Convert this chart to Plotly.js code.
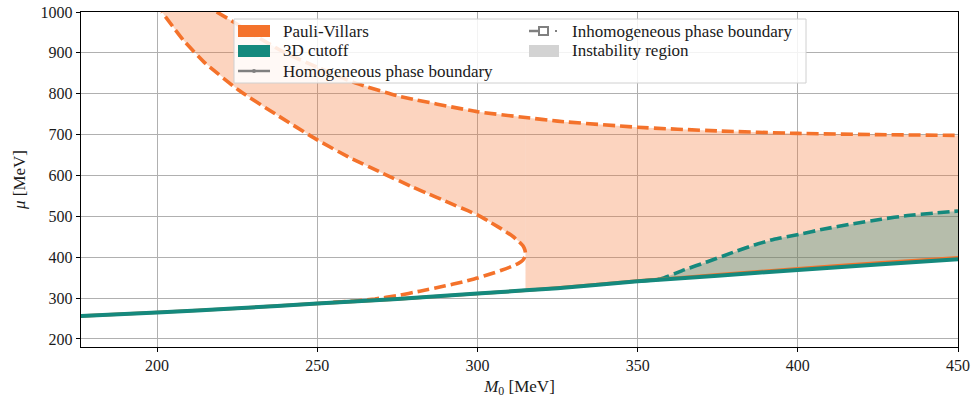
<!DOCTYPE html>
<html>
<head>
<meta charset="utf-8">
<script src="https://cdn.plot.ly/plotly-3.0.1.min.js"></script>
<style>html,body{margin:0;padding:0;background:#fff;}#chart{width:973px;height:399px;}</style>
</head>
<body>
<div id="chart"></div>
<script>
// Homogeneous phase boundary
const M0_hom = [176, 200, 225, 250, 275, 300, 315, 325, 350, 375, 400, 425, 450];
const mu_hom_PV = [256, 265, 275, 287, 298, 311, 319, 325, 342, 357, 372, 386, 399];
const mu_hom_3D = [256, 265, 275, 287, 298, 311, 319, 324, 341, 355, 369, 382, 395];

// Pauli-Villars inhomogeneous boundary: inner curve (lower branch -> nose -> upper-left branch)
const M0_inh_PV_inner = [255, 262, 268, 275, 282, 290, 295, 300, 304, 307.5, 310.5, 312.8, 314.2, 314.8, 315,
                         314.8, 314.2, 313, 311.2, 309, 306.3, 303.3, 300.4, 297, 293, 289.5, 285, 280, 270, 260.3, 250, 237, 225.4, 215, 208.2, 201.5];
const mu_inh_PV_inner = [290, 293, 298, 306, 317, 330, 339, 349, 359, 368, 377, 385, 393, 401, 410,
                         418, 428, 438, 450, 462, 475, 489, 502, 514, 527, 539, 554, 571, 607, 643, 687, 750, 809, 875, 931, 1000];

// Pauli-Villars inhomogeneous boundary: outer (upper) curve
const M0_inh_PV_outer = [218.6, 224, 230, 240, 250, 262, 275, 300, 315, 325, 350, 375, 400, 425, 450];
const mu_inh_PV_outer = [1000, 975, 945, 900, 865, 826, 795, 756, 742, 733, 718, 709, 703, 700, 698];

// 3D cutoff inhomogeneous boundary
const M0_inh_3D = [351, 357.2, 364.5, 371.8, 379.1, 386.4, 392.6, 400.3, 408.2, 416.6, 426, 434.3, 442.6, 450];
const mu_inh_3D = [342, 347, 369, 389, 410, 430, 444, 456, 469, 481, 493, 502, 508, 513];

const xTicks = [200, 250, 300, 350, 400, 450];
const yTicks = [200, 300, 400, 500, 600, 700, 800, 900, 1000];

const ORANGE = '#f4722b';
const TEAL = '#15897d';
const PV_FILL = 'rgba(244,114,43,0.3)';
const TEAL_FILL = 'rgba(21,137,125,0.3)';

// Split of the Pauli-Villars region at the nose of the inner curve
const iNose = M0_inh_PV_inner.indexOf(Math.max(...M0_inh_PV_inner));
const xSplit = M0_inh_PV_inner[iNose];
const innerUpperX = M0_inh_PV_inner.slice(iNose);
const innerUpperY = mu_inh_PV_inner.slice(iNose);
const outerLeftX = [], outerLeftY = [], outerRightX = [], outerRightY = [];
M0_inh_PV_outer.forEach((x, i) => {
  if (x <= xSplit) { outerLeftX.push(x); outerLeftY.push(mu_inh_PV_outer[i]); }
  if (x >= xSplit) { outerRightX.push(x); outerRightY.push(mu_inh_PV_outer[i]); }
});
// Region A (left of nose): between inner upper-left branch and outer curve
const regAx = outerLeftX.concat(innerUpperX);
const regAy = outerLeftY.concat(innerUpperY);

// Region B (right of nose): between homogeneous line and outer curve
const homRX = [], homRY = [];
M0_hom.forEach((x, i) => { if (x >= xSplit) { homRX.push(x); homRY.push(mu_hom_PV[i]); } });
const regBx = homRX.concat(outerRightX.slice().reverse());
const regBy = homRY.concat(outerRightY.slice().reverse());

// 3D cutoff instability region
const hom3RX = [], hom3RY = [];
M0_hom.forEach((x, i) => { if (x >= 350) { hom3RX.push(x); hom3RY.push(mu_hom_3D[i]); } });
const reg3x = M0_inh_3D.concat(hom3RX.slice().reverse());
const reg3y = mu_inh_3D.concat(hom3RY.slice().reverse());

const dash = '12px,5px';
const traces = [
  {x: regAx, y: regAy, mode: 'none', fill: 'toself', fillcolor: PV_FILL},
  {x: regBx, y: regBy, mode: 'none', fill: 'toself', fillcolor: PV_FILL},
  {x: reg3x, y: reg3y, mode: 'none', fill: 'toself', fillcolor: TEAL_FILL},
  {x: M0_inh_PV_inner, y: mu_inh_PV_inner, mode: 'lines', line: {color: ORANGE, width: 3.6, dash: dash, shape: 'spline', smoothing: 0.4}},
  {x: M0_inh_PV_outer, y: mu_inh_PV_outer, mode: 'lines', line: {color: ORANGE, width: 3.6, dash: dash, shape: 'spline', smoothing: 0.5}},
  {x: M0_inh_3D, y: mu_inh_3D, mode: 'lines', line: {color: TEAL, width: 3.6, dash: dash, shape: 'spline', smoothing: 0.5}},
  {x: M0_hom, y: mu_hom_PV, mode: 'lines', line: {color: ORANGE, width: 3.4, shape: 'spline', smoothing: 0.5}},
  {x: M0_hom, y: mu_hom_3D, mode: 'lines', line: {color: TEAL, width: 4, shape: 'spline', smoothing: 0.5}}
].map(t => Object.assign({type: 'scatter', showlegend: false, hoverinfo: 'skip'}, t));

// Legend (drawn in paper coords from pixel positions of plot area)
const L = 81, R = 958, T = 12, B = 347;
const px = v => (v - L) / (R - L);
const py = v => (B - v) / (B - T);
const FONT = 'Liberation Serif, Times New Roman, serif';
const shapes = [
  {type: 'rect', xref: 'paper', yref: 'paper', x0: px(234), x1: px(806), y0: py(19), y1: py(83),
   fillcolor: 'rgba(255,255,255,0.85)', line: {color: '#d0d0d0', width: 1}},
  {type: 'rect', xref: 'paper', yref: 'paper', x0: px(238), x1: px(270), y0: py(25), y1: py(37),
   fillcolor: ORANGE, line: {width: 0}},
  {type: 'rect', xref: 'paper', yref: 'paper', x0: px(238), x1: px(270), y0: py(45), y1: py(57),
   fillcolor: TEAL, line: {width: 0}},
  {type: 'line', xref: 'paper', yref: 'paper', x0: px(238), x1: px(270), y0: py(71), y1: py(71),
   line: {color: '#808080', width: 2.5}},
  {type: 'circle', xref: 'paper', yref: 'paper', x0: px(252), x1: px(256), y0: py(69), y1: py(73),
   fillcolor: '#808080', line: {color: '#808080', width: 0}},
  {type: 'line', xref: 'paper', yref: 'paper', x0: px(529), x1: px(540), y0: py(31), y1: py(31),
   line: {color: '#808080', width: 2.5}},
  {type: 'rect', xref: 'paper', yref: 'paper', x0: px(539), x1: px(548), y0: py(27), y1: py(35),
   fillcolor: '#ffffff', line: {color: '#808080', width: 2}},
  {type: 'line', xref: 'paper', yref: 'paper', x0: px(555), x1: px(557), y0: py(31), y1: py(31),
   line: {color: '#808080', width: 2}},
  {type: 'rect', xref: 'paper', yref: 'paper', x0: px(529), x1: px(559), y0: py(45), y1: py(57),
   fillcolor: '#d3d3d3', line: {width: 0}}
];
const legendLabels = [
  {t: 'Pauli-Villars', x: 281, y: 31},
  {t: '3D cutoff', x: 281, y: 51},
  {t: 'Homogeneous phase boundary', x: 281, y: 71},
  {t: 'Inhomogeneous phase boundary', x: 570, y: 31},
  {t: 'Instability region', x: 570, y: 51}
];
const annotations = legendLabels.map(a => ({
  text: a.t, xref: 'paper', yref: 'paper', x: px(a.x), y: py(a.y), xanchor: 'left', yanchor: 'middle',
  showarrow: false, font: {family: FONT, size: 17, color: '#1a1a1a'}
}));

const layout = {
  width: 973, height: 399,
  margin: {l: L, r: 973 - R, t: T, b: 399 - B},
  paper_bgcolor: '#ffffff', plot_bgcolor: '#ffffff',
  font: {family: FONT, size: 16, color: '#1a1a1a'},
  xaxis: {
    range: [176.25, 450], tickvals: xTicks, ticktext: xTicks.map(String),
    showgrid: true, gridcolor: '#b0b0b0', gridwidth: 1,
    zeroline: false, showline: true, linecolor: '#000', linewidth: 1.2, mirror: true,
    ticks: 'outside', ticklen: 4, tickcolor: '#000', tickwidth: 1,
    tickfont: {family: FONT, size: 16, color: '#1a1a1a'},
    title: {text: '<i>M</i><sub>0</sub> [MeV]', font: {family: FONT, size: 17, color: '#1a1a1a'}, standoff: 6}
  },
  yaxis: {
    range: [180.4, 1000], tickvals: yTicks, ticktext: yTicks.map(String),
    showgrid: true, gridcolor: '#b0b0b0', gridwidth: 1,
    zeroline: false, showline: true, linecolor: '#000', linewidth: 1.2, mirror: true,
    ticks: 'outside', ticklen: 4, tickcolor: '#000', tickwidth: 1,
    tickfont: {family: FONT, size: 16, color: '#1a1a1a'},
    title: {text: '<i>μ</i> [MeV]', font: {family: FONT, size: 17, color: '#1a1a1a'}, standoff: 10}
  },
  shapes: shapes,
  annotations: annotations,
  showlegend: false
};

Plotly.newPlot('chart', traces, layout, {displayModeBar: false, staticPlot: true});
</script>
</body>
</html>
